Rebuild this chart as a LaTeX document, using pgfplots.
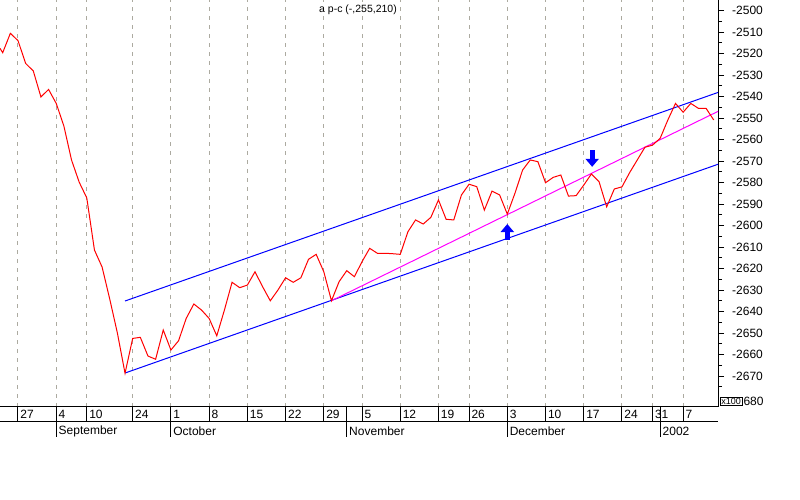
\documentclass[border=0pt]{standalone}
\usepackage{pgfplots}
\pgfplotsset{compat=1.18}
\usepackage{fontspec}
\setmainfont{Liberation Sans}
\usetikzlibrary{arrows.meta}
\definecolor{gridc}{RGB}{172,170,160}
\definecolor{magc}{RGB}{255,0,255}
\newcommand\dayt[2]{\draw[black,line width=1pt] (axis cs:#1,-2684.4) -- ++(0pt,-14.7pt) node[pos=0.5,anchor=west,inner sep=0pt,xshift=2pt]{#2};}
\newcommand\mont[2]{\draw[black,line width=1pt] (axis cs:#1,-2684.4) -- ++(0pt,-30pt) node[pos=0.82,anchor=west,inner sep=0pt,xshift=2pt]{#2};}
\begin{document}
\begin{tikzpicture}[font=\fontsize{12pt}{14pt}\selectfont]
\path[use as bounding box] (0pt,-93pt) rectangle (800pt,407pt);
\begin{axis}[
 at={(0pt,0pt)}, anchor=south west,
 scale only axis, width=718pt, height=407pt,
 xmin=-2.354, xmax=91.56, ymin=-2684.4, ymax=-2495.1,
 axis x line*=bottom, axis y line*=right,
 axis line style={line width=1pt},
 xtick={0,5,9,15,20,25,30,35,40,45,50,55,59,64,69,74,79,83,87},
 xticklabels={},
 xmajorgrids, major grid style={gridc, dash pattern=on 4pt off 5pt, line width=1pt},
 xtick style={draw=none},
 ytick={-2670,-2660,...,-2500},
 minor ytick={-2675,-2665,...,-2505},
 tick align=outside, major tick length=6pt, minor tick length=4pt,
 ytick style={black, line width=1pt},
 yticklabel style={/pgf/number format/1000 sep={}, /pgf/number format/assume math mode=true, anchor=west, inner sep=0pt, xshift=8pt},
 clip=false,
]
\addplot[blue, line width=1pt] coordinates {(14,-2635.1) (91.56,-2538.1)};
\addplot[blue, line width=1pt] coordinates {(14,-2668.6) (91.56,-2571.5)};
\addplot[magc, line width=1pt] coordinates {(41,-2635.0) (91.56,-2546.9)};
\addplot[red, line width=1pt] table {
x y
-2.354 -2517.6
-2 -2519.6
-1 -2510.6
0 -2514.0
1 -2524.6
2 -2528.1
3 -2540.2
4 -2536.7
5 -2543.2
6 -2553.7
7 -2569.5
8 -2579.8
9 -2587.2
10 -2611.4
11 -2619.3
12 -2634.2
13 -2650.0
14 -2668.7
15 -2652.5
16 -2652.0
17 -2660.7
18 -2662.2
19 -2648.6
20 -2657.9
21 -2653.6
22 -2643.2
23 -2636.5
24 -2639.3
25 -2643.2
26 -2651.3
27 -2639.3
28 -2626.4
29 -2628.9
30 -2627.7
31 -2621.5
32 -2628.5
33 -2635.0
34 -2630.0
35 -2624.3
36 -2626.4
37 -2624.3
38 -2615.7
39 -2613.4
40 -2621.5
41 -2635.0
42 -2626.1
43 -2621.0
44 -2623.8
45 -2616.8
46 -2610.6
47 -2612.9
48 -2612.9
49 -2613.1
50 -2613.4
51 -2602.9
52 -2597.4
53 -2599.3
54 -2596.2
55 -2588.1
56 -2597.1
57 -2597.4
58 -2585.8
59 -2580.8
60 -2581.9
61 -2592.8
62 -2584.0
63 -2585.8
64 -2594.7
65 -2585.0
66 -2574.2
67 -2569.5
68 -2570.3
69 -2580.1
70 -2577.6
71 -2576.5
72 -2586.3
73 -2586.1
74 -2581.2
75 -2576.0
76 -2579.6
77 -2591.3
78 -2583.0
79 -2582.0
80 -2575.4
81 -2569.5
82 -2563.6
83 -2562.6
84 -2559.4
85 -2550.9
86 -2543.2
87 -2547.3
88 -2543.2
89 -2545.5
90 -2545.5
91 -2550.9
};
\addplot[blue, line width=5pt, -{Triangle[width=13pt,length=8pt]}] coordinates {(64,-2606.7) (64,-2599.3)};
\addplot[blue, line width=5pt, -{Triangle[width=13pt,length=8pt]}] coordinates {(75.1,-2565.0) (75.1,-2572.7)};
\node[anchor=center, font=\fontsize{10.5pt}{12pt}\selectfont] at (rel axis cs:0.4986,0.9754) {a p-c (-,255,210)};
\dayt{0}{27}\dayt{5}{4}\dayt{9}{10}\dayt{15}{24}\dayt{20}{1}\dayt{25}{8}
\dayt{30}{15}\dayt{35}{22}\dayt{40}{29}\dayt{45}{5}\dayt{50}{12}\dayt{55}{19}
\dayt{59}{26}\dayt{64}{3}\dayt{69}{10}\dayt{74}{17}\dayt{79}{24}\dayt{83}{31}\dayt{87}{7}
\mont{5}{September}\mont{20}{October}\mont{43}{November}\mont{64}{December}\mont{84}{2002}
\draw[black,line width=1pt] ([yshift=-14.7pt]rel axis cs:0,0) -- ([yshift=-14.7pt]rel axis cs:1,0);
\node[draw=black, line width=0.8pt, fill=white, inner sep=1pt, anchor=south west, font=\fontsize{9pt}{10pt}\selectfont] (xb) at ([xshift=2pt,yshift=1pt]rel axis cs:1,0) {x100};
\node[anchor=west, inner sep=0pt, xshift=1pt] at (xb.east) {680};
\end{axis}
\end{tikzpicture}
\end{document}
